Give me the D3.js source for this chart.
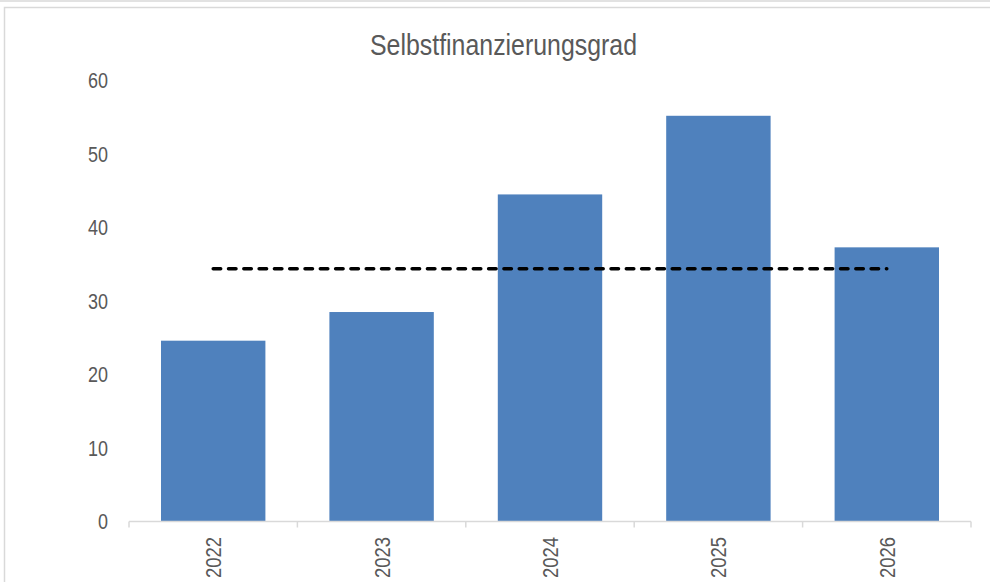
<!DOCTYPE html>
<html>
<head>
<meta charset="utf-8">
<script src="https://cdn.jsdelivr.net/npm/d3@7"></script>
<style>
  body { margin: 0; background: #fff; }
  text { font-family: "Liberation Sans Narrow", "Arial Narrow", "Liberation Sans", Arial, sans-serif; fill: #595959; }
</style>
</head>
<body>
<svg id="drawing_region"></svg>
<script>
// data
const years = ['2022', '2023', '2024', '2025', '2026'];
const values = [24.6, 28.5, 44.5, 55.2, 37.3];
const reference = [34.4];
const yticks = [0, 10, 20, 30, 40, 50, 60];
const title = 'Selbstfinanzierungsgrad';

const width = 990, height = 582;
const digitW = 10; // narrow digits at 22px

const svg = d3.select('#drawing_region')
    .attr('width', width)
    .attr('height', height);

// frame lines
svg.append('line')
    .attr('x1', 0).attr('x2', width)
    .attr('y1', 1).attr('y2', 1)
    .attr('stroke', '#d9d9d9').attr('stroke-width', 1.5);
svg.append('path')
    .attr('d', `M4.5,${height} V7.5 H${width}`)
    .attr('fill', 'none')
    .attr('stroke', '#d9d9d9').attr('stroke-width', 1.5);

svg.append('text')
    .attr('x', 503.5)
    .attr('y', 55)
    .attr('text-anchor', 'middle')
    .attr('font-size', '30px')
    .attr('textLength', 267)
    .attr('lengthAdjust', 'spacingAndGlyphs')
    .text(title);

const xscale = d3.scaleBand()
    .domain(years)
    .range([129, 971])
    .paddingInner(0.38)
    .paddingOuter(0.19);

const yscale = d3.scaleLinear()
    .domain([0, 60])
    .range([521.5, 80.5]);

// bars
svg.append('g').selectAll('rect')
    .data(years)
    .join('rect')
    .attr('x', d => xscale(d))
    .attr('y', (d, i) => yscale(values[i]))
    .attr('width', xscale.bandwidth())
    .attr('height', (d, i) => yscale(0) - yscale(values[i]))
    .attr('fill', '#4f81bd');

// x axis line with ticks on category boundaries
const gap = (xscale.step() - xscale.bandwidth()) / 2;
const bounds = years.map(d => xscale(d) - gap).concat([xscale.range()[1]]);
const xaxis = svg.append('g').attr('stroke', '#d9d9d9').attr('stroke-width', 1.5);
xaxis.append('line')
    .attr('x1', xscale.range()[0]).attr('x2', xscale.range()[1])
    .attr('y1', yscale(0)).attr('y2', yscale(0));
xaxis.selectAll('.tick')
    .data(bounds)
    .join('line')
    .attr('class', 'tick')
    .attr('x1', d => d).attr('x2', d => d)
    .attr('y1', yscale(0)).attr('y2', yscale(0) + 6);

// year labels
svg.append('g').selectAll('text')
    .data(years)
    .join('text')
    .attr('transform', d => `translate(${xscale(d) + xscale.bandwidth() / 2}, 537) rotate(-90)`)
    .attr('text-anchor', 'end')
    .attr('dy', '0.36em')
    .attr('font-size', '22px')
    .attr('textLength', d => d.length * digitW + 1)
    .attr('lengthAdjust', 'spacingAndGlyphs')
    .text(d => d);

// y labels
svg.append('g').selectAll('text')
    .data(yticks)
    .join('text')
    .attr('x', 108)
    .attr('y', d => yscale(d))
    .attr('dy', '0.35em')
    .attr('text-anchor', 'end')
    .attr('font-size', '22px')
    .attr('textLength', d => String(d).length * digitW)
    .attr('lengthAdjust', 'spacingAndGlyphs')
    .text(d => d);

// dashed reference line
const cx = d => xscale(d) + xscale.bandwidth() / 2;
svg.append('line')
    .attr('x1', cx(years[0]))
    .attr('x2', cx(years[years.length - 1]))
    .attr('y1', yscale(reference[0]))
    .attr('y2', yscale(reference[0]))
    .attr('stroke', '#000')
    .attr('stroke-width', 3.5)
    .attr('stroke-linecap', 'round')
    .attr('stroke-dasharray', '7.5,7.8');
</script>
</body>
</html>
